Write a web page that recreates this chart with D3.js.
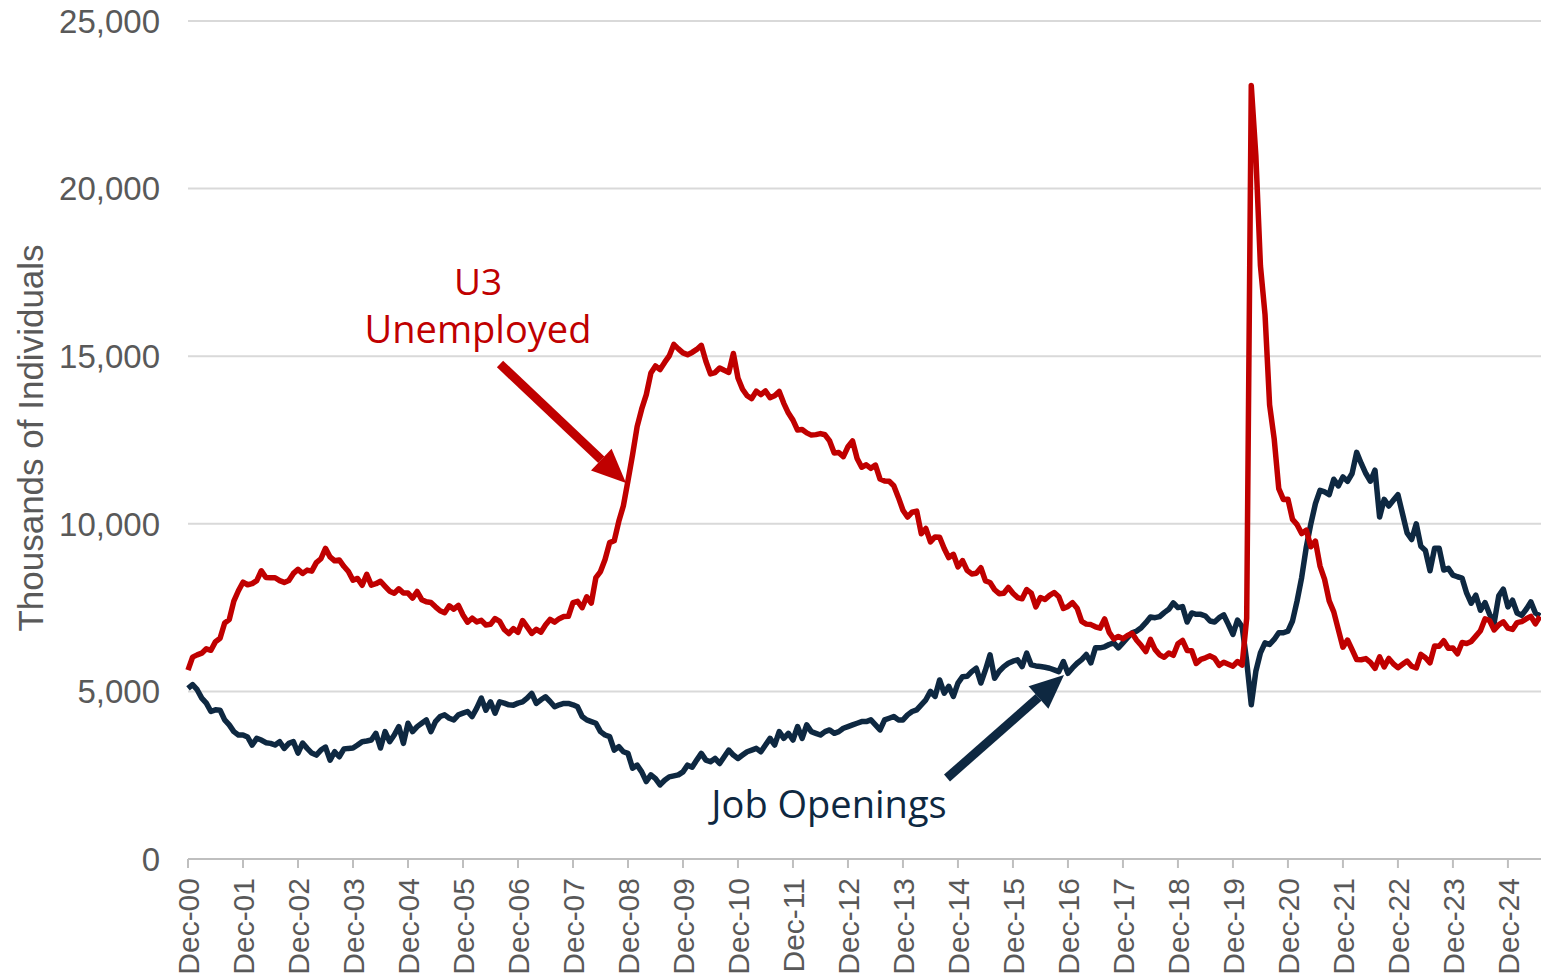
<!DOCTYPE html>
<html>
<head>
<meta charset="utf-8">
<script src="https://cdn.jsdelivr.net/npm/d3@7/dist/d3.min.js"></script>
<style>
	body { margin: 0; background: #fff; }
	.tick-label { font-family: "Liberation Sans", Arial, sans-serif; fill: #595959; }
	.note { font-family: "Open Sans", "Noto Sans", sans-serif; }
</style>
</head>
<body>
<div id="chart"></div>
<script>
// monthly, Dec 2000 .. Jul 2025, thousands
var tickLabels = ["Dec-00","Dec-01","Dec-02","Dec-03","Dec-04","Dec-05","Dec-06","Dec-07","Dec-08",
	"Dec-09","Dec-10","Dec-11","Dec-12","Dec-13","Dec-14","Dec-15","Dec-16","Dec-17","Dec-18",
	"Dec-19","Dec-20","Dec-21","Dec-22","Dec-23","Dec-24"];
var yTicks = [0, 5000, 10000, 15000, 20000, 25000];

var unemployed = [5634,
	6023,6089,6141,6271,6226,6484,6583,7042,7142,7694,8003,8258,
	8182,8215,8304,8599,8399,8393,8390,8304,8251,8307,8520,8640,
	8520,8618,8588,8842,8957,9266,9011,8896,8921,8732,8576,8317,
	8370,8167,8491,8170,8212,8286,8136,7990,7927,8061,7932,7934,
	7784,7980,7737,7672,7651,7524,7406,7345,7553,7453,7566,7279,
	7064,7184,7072,7120,6980,7001,7175,7091,6847,6727,6872,6762,
	7116,6927,6731,6850,6766,6979,7149,7067,7170,7237,7240,7645,
	7685,7497,7822,7637,8395,8575,8937,9438,9494,10074,10538,11286,
	12058,12898,13426,13853,14499,14707,14601,14814,15009,15352,15219,15098,
	15046,15113,15202,15325,14849,14474,14512,14648,14579,14516,15081,14348,
	14013,13820,13737,13957,13855,13962,13763,13818,13948,13594,13302,13093,
	12797,12813,12713,12646,12660,12692,12656,12471,12115,12124,12005,12298,
	12471,11950,11689,11760,11654,11751,11335,11279,11270,11136,10787,10404,
	10202,10349,10380,9702,9859,9460,9608,9599,9262,8990,9090,8717,
	8903,8610,8504,8526,8688,8296,8248,8034,7915,7927,8103,7927,
	7800,7763,8038,7932,7523,7801,7744,7866,7951,7826,7473,7536,
	7648,7484,7089,7007,6993,6926,6885,7163,6759,6564,6639,6571,
	6667,6732,6525,6368,6188,6551,6254,6091,6019,6144,6076,6425,
	6521,6223,6213,5833,5956,6002,6061,5990,5777,5872,5811,5753,
	5892,5787,7185,23078,20985,17697,16245,13550,12535,11049,10728,10736,
	10130,9975,9710,9812,9315,9484,8739,8340,7699,7373,6841,6319,
	6532,6245,5950,5944,5978,5868,5687,6029,5730,5983,5824,5708,
	5807,5906,5750,5698,6105,6004,5853,6355,6347,6511,6286,6296,
	6124,6458,6429,6492,6650,6811,7163,7115,6834,6984,7076,6886,
	6849,7052,7083,7166,7237,7015,7236];

var openings = [5090,
	5200,5050,4800,4650,4400,4450,4440,4150,4000,3800,3700,3700,
	3640,3400,3600,3550,3470,3450,3400,3500,3300,3450,3500,3160,
	3460,3300,3160,3100,3250,3340,2950,3200,3050,3280,3300,3310,
	3400,3500,3520,3550,3750,3310,3800,3500,3700,3950,3450,4050,
	3800,3950,4050,4150,3800,4100,4250,4300,4200,4150,4300,4350,
	4400,4250,4500,4800,4440,4690,4350,4690,4650,4600,4590,4650,
	4690,4800,4940,4640,4750,4840,4700,4540,4600,4640,4640,4600,
	4540,4250,4150,4100,4050,3800,3700,3650,3250,3350,3200,3150,
	2710,2800,2600,2310,2510,2400,2210,2350,2450,2480,2510,2600,
	2800,2740,2950,3150,2950,2900,3000,2850,3050,3250,3100,3000,
	3100,3200,3250,3300,3200,3400,3600,3400,3800,3600,3750,3550,
	3950,3600,4000,3800,3750,3700,3800,3850,3750,3800,3900,3950,
	4000,4050,4100,4100,4150,4000,3850,4150,4200,4250,4150,4150,
	4300,4400,4450,4600,4750,5000,4850,5340,4950,5150,4850,5250,
	5440,5450,5590,5690,5250,5640,6090,5390,5600,5740,5840,5900,
	5940,5740,6140,5790,5760,5740,5720,5690,5640,5590,5890,5540,
	5700,5840,5950,6100,5850,6300,6300,6330,6400,6450,6300,6450,
	6600,6750,6800,6900,7050,7220,7200,7230,7350,7450,7640,7500,
	7530,7070,7340,7300,7300,7250,7100,7070,7200,7280,7000,6700,
	7130,6930,5900,4600,5600,6150,6450,6400,6550,6750,6750,6800,
	7100,7700,8400,9300,10000,10600,11000,10950,10870,11330,11130,11400,
	11270,11500,12130,11800,11500,11270,11600,10200,10730,10530,10700,10870,
	10300,9730,9530,10000,9330,9200,8600,9270,9270,8620,8670,8470,
	8420,8380,7930,7630,7870,7420,7650,7300,7050,7850,8050,7520,
	7720,7340,7270,7450,7670,7340,7250];

var width = 1541, height = 977;
var redColor = "#C00000", navyColor = "#0E2841";

var svg = d3.select("#chart").append("svg")
	.attr("width", width)
	.attr("height", height);

var x = d3.scaleLinear().domain([0, unemployed.length - 1]).range([188, 1540]);
var y = d3.scaleLinear().domain([0, 25000]).range([859, 21]);

// gridlines
svg.selectAll(".grid")
	.data(yTicks.filter(function(d) { return d > 0; }))
	.enter().append("line")
	.attr("x1", 188).attr("x2", width)
	.attr("y1", function(d) { return y(d); })
	.attr("y2", function(d) { return y(d); })
	.style("stroke", "#D9D9D9")
	.style("stroke-width", 2);

// y labels
svg.selectAll(".ylab")
	.data(yTicks)
	.enter().append("text")
	.attr("class", "tick-label")
	.attr("x", 160)
	.attr("y", function(d) { return y(d); })
	.attr("dy", "0.36em")
	.attr("text-anchor", "end")
	.style("font-size", "33px")
	.text(function(d) { return d3.format(",")(d); });

// x axis line + ticks
svg.append("line")
	.attr("x1", 188).attr("x2", width)
	.attr("y1", y(0)).attr("y2", y(0))
	.style("stroke", "#BFBFBF")
	.style("stroke-width", 2);

var tickIdx = tickLabels.map(function(d, i) { return i * 12; });

svg.selectAll(".xtick")
	.data(tickIdx)
	.enter().append("line")
	.attr("x1", function(d) { return x(d); })
	.attr("x2", function(d) { return x(d); })
	.attr("y1", y(0)).attr("y2", y(0) + 9)
	.style("stroke", "#BFBFBF")
	.style("stroke-width", 2);

svg.selectAll(".xlab")
	.data(tickIdx)
	.enter().append("text")
	.attr("class", "tick-label")
	.attr("transform", function(d) { return "translate(" + x(d) + "," + 878 + ") rotate(-90)"; })
	.attr("dy", "0.36em")
	.attr("text-anchor", "end")
	.style("font-size", "30px")
	.text(function(d, i) { return tickLabels[i]; });

// y title
svg.append("text")
	.attr("class", "tick-label")
	.attr("transform", "translate(30,438) rotate(-90)")
	.attr("dy", "0.36em")
	.attr("text-anchor", "middle")
	.style("font-size", "35px")
	.text("Thousands of Individuals");

// series
var line = d3.line()
	.x(function(d, i) { return x(i); })
	.y(function(d) { return y(d); });

svg.append("path")
	.attr("d", line(openings))
	.style("fill", "none")
	.style("stroke", navyColor)
	.style("stroke-width", 5.5)
	.style("stroke-linejoin", "round");

svg.append("path")
	.attr("d", line(unemployed))
	.style("fill", "none")
	.style("stroke", redColor)
	.style("stroke-width", 5.5)
	.style("stroke-linejoin", "round");

// annotations
function arrow(x1, y1, x2, y2, color) {
	var ang = Math.atan2(y2 - y1, x2 - x1);
	var len = 34, half = 15;
	var bx = x2 - len * Math.cos(ang), by = y2 - len * Math.sin(ang);
	svg.append("line")
		.attr("x1", x1).attr("y1", y1)
		.attr("x2", bx).attr("y2", by)
		.style("stroke", color)
		.style("stroke-width", 9);
	var px = -Math.sin(ang) * half, py = Math.cos(ang) * half;
	svg.append("polygon")
		.attr("points", [[x2, y2], [bx + px, by + py], [bx - px, by - py]].map(function(p) { return p.join(","); }).join(" "))
		.style("fill", color);
}

svg.append("text")
	.attr("class", "note")
	.attr("x", 478).attr("y", 295)
	.attr("text-anchor", "middle")
	.style("font-size", "37px")
	.style("fill", redColor)
	.text("U3");
svg.append("text")
	.attr("class", "note")
	.attr("x", 478).attr("y", 343)
	.attr("text-anchor", "middle")
	.style("font-size", "38px")
	.style("fill", redColor)
	.text("Unemployed");
arrow(500, 364, 626, 483, redColor);

svg.append("text")
	.attr("class", "note")
	.attr("x", 829).attr("y", 818)
	.attr("text-anchor", "middle")
	.style("font-size", "38px")
	.style("fill", navyColor)
	.text("Job Openings");
arrow(947, 778, 1064, 675, navyColor);
</script>
</body>
</html>
